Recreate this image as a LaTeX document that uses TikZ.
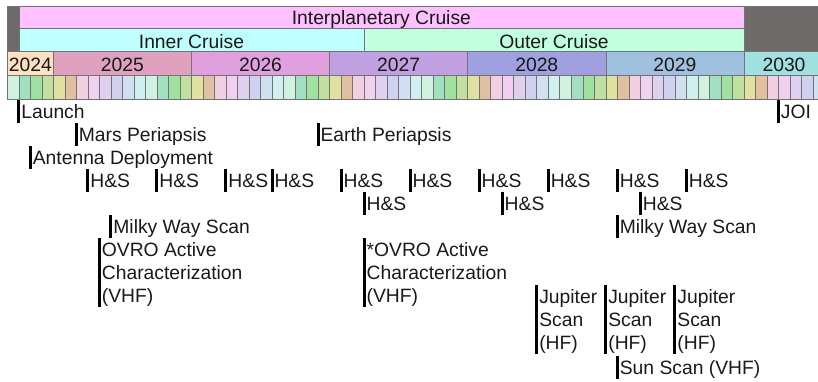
\documentclass[tikz,border=0pt]{standalone}
\usepackage{fontspec}
\setmainfont{Liberation Sans}
\definecolor{mc0}{HTML}{E0E0A0}
\definecolor{mc1}{HTML}{E0C0A0}
\definecolor{mc2}{HTML}{F0D0E0}
\definecolor{mc3}{HTML}{F0D0F0}
\definecolor{mc4}{HTML}{E0D0F0}
\definecolor{mc5}{HTML}{D0D0F0}
\definecolor{mc6}{HTML}{D0E0F0}
\definecolor{mc7}{HTML}{D0F0F0}
\definecolor{mc8}{HTML}{D0F0E0}
\definecolor{mc9}{HTML}{A0E0C0}
\definecolor{mc10}{HTML}{A0E0A0}
\definecolor{mc11}{HTML}{C0E0A0}
\definecolor{y2024}{HTML}{FFE0C0}
\definecolor{y2025}{HTML}{E0A0C0}
\definecolor{y2026}{HTML}{E0A0E0}
\definecolor{y2027}{HTML}{C0A0E0}
\definecolor{y2028}{HTML}{A0A0E0}
\definecolor{y2029}{HTML}{A0C0E0}
\definecolor{y2030}{HTML}{A0E0E0}
\definecolor{cruisepink}{HTML}{FFC0FF}
\definecolor{innercyan}{HTML}{C0FFFF}
\definecolor{outermint}{HTML}{C0FFE0}
\definecolor{darkgray}{HTML}{6E6A6A}
\tikzset{
  cell/.style={draw=black!55, line width=0.6pt},
  lbl/.style={font=\fontsize{19.3}{23}\selectfont, inner sep=0pt, anchor=base, text=black!90},
  evtext/.style={font=\fontsize{19.3}{23}\selectfont, inner sep=0pt, anchor=north west, align=left, text=black!90},
  evbar/.style={fill=black},
}
\newcommand\mx[1]{7.3+11.51*(#1)}
\newcommand\evt[5]{%
  \pgfmathsetmacro\ex{7.3+11.51*#2}%
  \fill[evbar] (\ex-1.5,#3) rectangle (\ex+1.5,#3+23*#4);
  \node[evtext] (#1) at (\ex+2.3,#3+2.2) {\strut #5};
}
\begin{document}
\begin{tikzpicture}[x=1pt,y=-1pt]
\useasboundingbox (0,0) rectangle (818,382);
\begin{scope}
\clip (0,0) rectangle (818,382);
% month cells
\foreach \m in {0,...,70}{
  \pgfmathtruncatemacro\c{mod(\m+8,12)}
  \pgfmathsetmacro\xa{7.3+11.51*\m}
  \pgfmathsetmacro\xb{7.3+11.51*(\m+1)}
  \filldraw[cell, fill=mc\c] (\xa,75) rectangle (\xb,99);
}
% years
\foreach \yr/\a/\b in {2024/0/4,2025/4/16,2026/16/28,2027/28/40,2028/40/52,2029/52/64,2030/64/72}{
  \filldraw[cell, fill=y\yr] ({7.3+11.51*\a},51.7) rectangle ({7.3+11.51*\b},75);
}
\node[lbl] (t2024) at ({7.3+11.51*2},71.7) {2024};
\node[lbl] (t2025) at ({7.3+11.51*10},71.7) {2025};
\node[lbl] (t2026) at ({7.3+11.51*22},71.7) {2026};
\node[lbl] (t2027) at ({7.3+11.51*34},71.7) {2027};
\node[lbl] (t2028) at ({7.3+11.51*46},71.7) {2028};
\node[lbl] (t2029) at ({7.3+11.51*58},71.7) {2029};
\node[lbl] (t2030) at (784,71.7) {2030};
% phases
\filldraw[cell, fill=darkgray] ({\mx{0}},6) rectangle ({\mx{1}},51.7);
\filldraw[cell, fill=cruisepink] ({\mx{1}},6) rectangle ({\mx{64}},28.3);
\filldraw[cell, fill=innercyan] ({\mx{1}},28.3) rectangle ({\mx{31}},51.7);
\filldraw[cell, fill=outermint] ({\mx{31}},28.3) rectangle ({\mx{64}},51.7);
\filldraw[cell, fill=darkgray] ({\mx{64}},6) rectangle (830,51.7);
\node[lbl] (interp) at ({(\mx{1}+\mx{64})/2},25) {Interplanetary Cruise};
\node[lbl] (inner) at ({(\mx{1}+\mx{31})/2},48.3) {Inner Cruise};
\node[lbl] (outer) at ({(\mx{31}+\mx{64})/2},48.3) {Outer Cruise};
\end{scope}
% events
\evt{launch}{1}{100}{1}{Launch}
\evt{joi}{67}{100}{1}{JOI}
\evt{mars}{6}{123}{1}{Mars Periapsis}
\evt{earth}{27}{123}{1}{Earth Periapsis}
\evt{antenna}{2}{146}{1}{Antenna Deployment}
\foreach \m/\i in {7/1,13/2,19/3,23/4,29/5,35/6,41/7,47/8,53/9,59/10}{
  \evt{hsa\i}{\m}{169}{1}{H\&S}
}
\foreach \m/\i in {31/1,43/2,55/3}{
  \evt{hsb\i}{\m}{192}{1}{H\&S}
}
\evt{mwa}{9}{215}{1}{Milky Way Scan}
\evt{mwb}{53}{215}{1}{Milky Way Scan}
\evt{ovroa}{8}{238}{3}{OVRO Active\\Characterization\\(VHF)}
\evt{ovrob}{31}{238}{3}{*OVRO Active\\Characterization\\(VHF)}
\evt{jupa}{46}{285}{3}{Jupiter\\Scan\\(HF)}
\evt{jupb}{52}{285}{3}{Jupiter\\Scan\\(HF)}
\evt{jupc}{58}{285}{3}{Jupiter\\Scan\\(HF)}
\evt{sun}{53}{355.5}{1}{Sun Scan (VHF)}
\end{tikzpicture}
\end{document}
